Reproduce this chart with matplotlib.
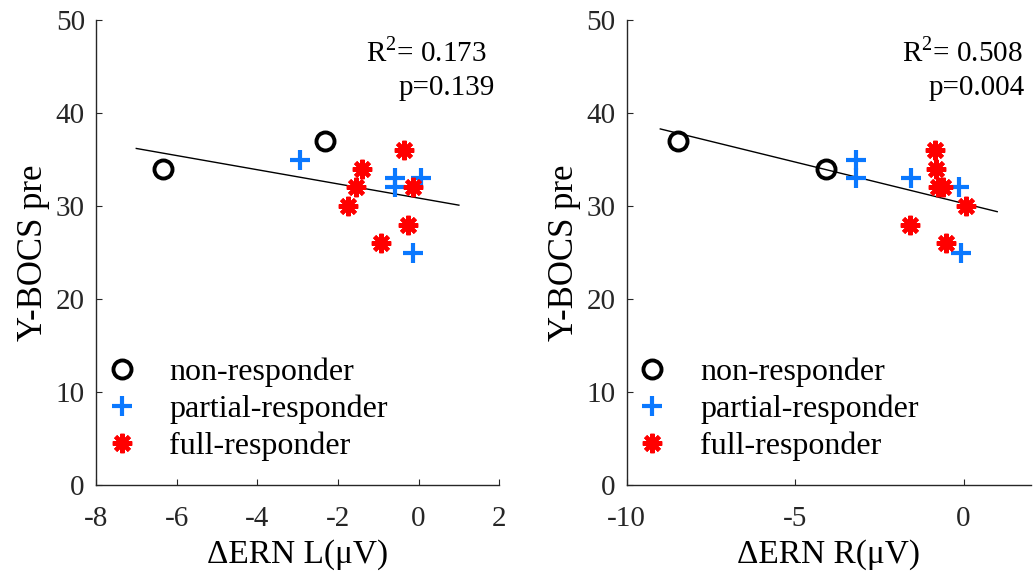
import numpy as np
import matplotlib
matplotlib.use('Agg')
import matplotlib.pyplot as plt

plt.rcParams['font.family'] = ['Liberation Serif', 'DejaVu Serif']
plt.rcParams['mathtext.fontset'] = 'custom'
plt.rcParams['mathtext.rm'] = 'Liberation Serif'

# left panel: dERN L
non_xL = [-6.33, -2.32]
non_yL = [34, 37]
part_xL = [-2.94, -0.58, -0.58, 0.06, -0.15]
part_yL = [35, 33, 32, 33, 25]
full_xL = [-0.36, -1.41, -1.56, -1.76, -0.13, -0.25, -0.93]
full_yL = [36, 34, 32, 30, 32, 28, 26]
fit_xL = [-7.0, 1.0]
fit_yL = [36.2, 30.1]

# right panel: dERN R
non_xR = [-8.48, -4.07]
non_yR = [37, 34]
part_xR = [-3.18, -3.18, -1.57, -0.12, -0.07]
part_yR = [35, 33, 33, 32, 25]
full_xR = [-0.86, -0.83, -0.76, -0.6, 0.08, -1.6, -0.51]
full_yR = [36, 34, 32, 32, 30, 28, 26]
fit_xR = [-9.0, 1.0]
fit_yR = [38.3, 29.4]

blue = '#0a78ff'
star = (8, 2, 0)

fig = plt.figure(figsize=(10.34, 5.76), dpi=100)
axL = fig.add_axes([0.0928, 0.158, 0.390, 0.807])
axR = fig.add_axes([0.606, 0.158, 0.391, 0.807])

panels = [
    (axL, non_xL, non_yL, part_xL, part_yL, full_xL, full_yL, fit_xL, fit_yL,
     (-8, 2), [-8, -6, -4, -2, 0, 2], '\u0394ERN L(\u03bcV)', '0.173', '0.139',
     0.970, 0.990),
    (axR, non_xR, non_yR, part_xR, part_yR, full_xR, full_yR, fit_xR, fit_yR,
     (-10, 2), [-10, -5, 0], '\u0394ERN R(\u03bcV)', '0.508', '0.004',
     0.980, 0.985),
]

for ax, nx, ny, px, py, fx, fy, lx, ly, xl, xt, xlab, r2, pv, rx, px_ in panels:
    ax.plot(lx, ly, color='black', linewidth=1)
    ax.plot(nx, ny, 'o', markersize=13, markerfacecolor='none',
            markeredgecolor='black', markeredgewidth=2.8, label='non-responder')
    ax.plot(px, py, '+', markersize=15, markeredgecolor=blue,
            markeredgewidth=3, label='partial-responder')
    ax.plot(fx, fy, linestyle='none', marker=star, markersize=14,
            markeredgecolor='red', markeredgewidth=3, label='full-responder')
    ax.set_xlim(xl)
    ax.set_ylim(0, 50)
    ax.set_xticks(xt)
    ax.set_xticklabels([str(t) for t in xt])
    ax.set_yticks([0, 10, 20, 30, 40, 50])
    ax.spines['top'].set_visible(False)
    ax.spines['right'].set_visible(False)
    for s in ['left', 'bottom']:
        ax.spines[s].set_color('#262626')
        ax.spines[s].set_linewidth(1)
    ax.tick_params(direction='in', length=4, labelsize=21, colors='#262626')
    ax.tick_params(axis='x', pad=15)
    ax.tick_params(axis='y', pad=8)
    ax.set_xlabel(xlab, fontsize=24, color='black', labelpad=5)
    ax.set_ylabel('Y-BOCS pre', fontsize=25, color='black', labelpad=4)
    ax.text(rx, 0.931, r'R$^2$= ' + r2, transform=ax.transAxes, ha='right',
            va='center', fontsize=21)
    ax.text(px_, 0.854, 'p=' + pv, transform=ax.transAxes, ha='right',
            va='center', fontsize=21)
    ax.legend(loc='lower left', frameon=False, fontsize=23, handletextpad=1.0,
              labelspacing=0.24, borderaxespad=0.0, borderpad=0.3,
              handlelength=1.0, bbox_to_anchor=(0.0, 0.03))

fig.savefig('out.png', dpi=100)
